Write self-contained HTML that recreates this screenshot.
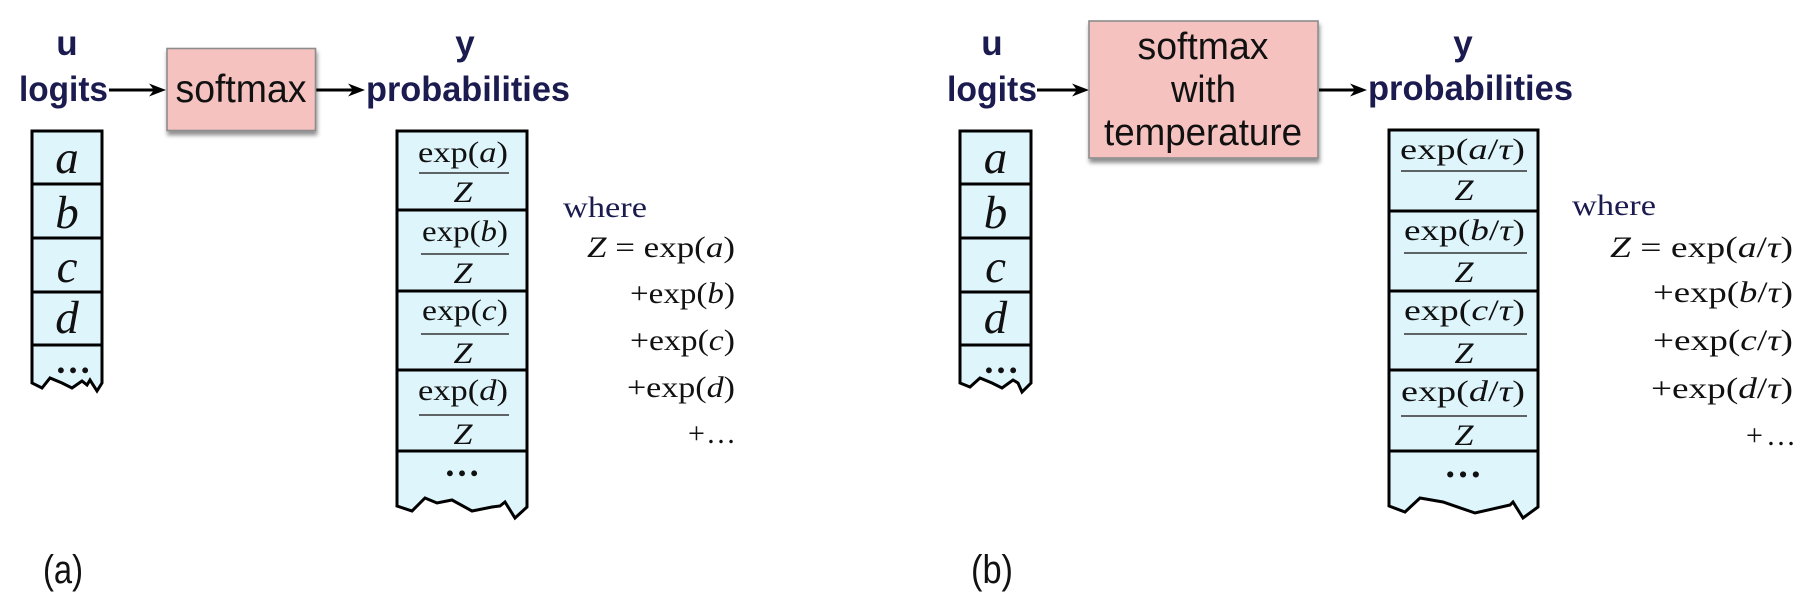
<!DOCTYPE html>
<html><head><meta charset="utf-8"><style>
html,body{margin:0;padding:0;background:#fff;}
svg{display:block;}
.lab{font-family:"Liberation Sans",Arial,sans-serif;font-weight:bold;fill:#1b1b4f;font-size:35px;}
.box{font-family:"Liberation Sans",Arial,sans-serif;fill:#111;}
.m{font-family:"Liberation Serif","Times New Roman",serif;fill:#111;font-size:30px;}
.i{font-style:italic;}
.cell{font-family:"Liberation Serif","Times New Roman",serif;font-style:italic;fill:#111;font-size:47px;}
.where{font-family:"Liberation Serif","Times New Roman",serif;fill:#1b1b4f;font-size:30px;}
.cap{font-family:"Liberation Sans",Arial,sans-serif;fill:#111;font-size:40px;}
</style></head><body>
<svg width="1814" height="616" viewBox="0 0 1814 616" xmlns="http://www.w3.org/2000/svg">
<defs>
<filter id="sh" x="-10%" y="-10%" width="130%" height="140%">
<feDropShadow dx="1" dy="4" stdDeviation="2" flood-color="#000" flood-opacity="0.45"/>
</filter>
</defs>

<!-- ================= PANEL A ================= -->
<text class="lab" x="67" y="55" text-anchor="middle">u</text>
<text class="lab" x="19" y="101" textLength="89" lengthAdjust="spacingAndGlyphs">logits</text>
<text class="lab" x="465" y="55" text-anchor="middle">y</text>
<text class="lab" x="366" y="101" textLength="204" lengthAdjust="spacingAndGlyphs">probabilities</text>

<line x1="109" y1="90" x2="160" y2="90" stroke="#000" stroke-width="3"/>
<path d="M166,90 L149,83.5 L154,90 L149,96.5 Z" fill="#000"/>
<line x1="316" y1="90" x2="358" y2="90" stroke="#000" stroke-width="3"/>
<path d="M365,90 L348,83.5 L353,90 L348,96.5 Z" fill="#000"/>

<rect x="167" y="48.5" width="148.5" height="82" fill="#f5c2c0" stroke="#8c8c8c" stroke-width="1.6" filter="url(#sh)"/>
<text class="box" x="241" y="102" font-size="39" text-anchor="middle" textLength="131" lengthAdjust="spacingAndGlyphs">softmax</text>

<path d="M32,131 L102,131 L102,383 L97,391 L90,380 L87,385 L82,381 L72,388 L62,383 L50,378 L42,388 L32,383 Z" fill="#def5fc" stroke="#000" stroke-width="3"/>
<g stroke="#000" stroke-width="3">
<line x1="32" y1="184" x2="102" y2="184"/>
<line x1="32" y1="238" x2="102" y2="238"/>
<line x1="32" y1="292" x2="102" y2="292"/>
<line x1="32" y1="345" x2="102" y2="345"/>
</g>
<text class="cell" x="67" y="173" text-anchor="middle">a</text>
<text class="cell" x="67" y="228" text-anchor="middle">b</text>
<text class="cell" x="67" y="282" text-anchor="middle">c</text>
<text class="cell" x="67" y="333" text-anchor="middle">d</text>
<text x="73" y="373" text-anchor="middle" font-family="Liberation Serif, serif" font-weight="bold" font-size="36" fill="#111">…</text>

<path d="M397,131 L527,131 L527,507 L515,518 L505,502 L500,506 L492,507 L472,511 L452,500 L437,503 L425,498 L412,511 L397,506 Z" fill="#def5fc" stroke="#000" stroke-width="3"/>
<g stroke="#000" stroke-width="3">
<line x1="397" y1="210" x2="527" y2="210"/>
<line x1="397" y1="291" x2="527" y2="291"/>
<line x1="397" y1="370" x2="527" y2="370"/>
<line x1="397" y1="451" x2="527" y2="451"/>
</g>
<g stroke="#333" stroke-width="1.6">
<line x1="419" y1="173" x2="509" y2="173"/>
<line x1="421" y1="254" x2="509" y2="254"/>
<line x1="421" y1="334" x2="509" y2="334"/>
<line x1="419" y1="415" x2="509" y2="415"/>
</g>
<text class="m" x="463" y="162" text-anchor="middle" textLength="90" lengthAdjust="spacingAndGlyphs">exp(<tspan class="i">a</tspan>)</text>
<text class="m i" x="463" y="202" text-anchor="middle" font-size="28" textLength="19" lengthAdjust="spacingAndGlyphs">Z</text>
<text class="m" x="465" y="241" text-anchor="middle" textLength="86" lengthAdjust="spacingAndGlyphs">exp(<tspan class="i">b</tspan>)</text>
<text class="m i" x="463" y="283" text-anchor="middle" font-size="28" textLength="19" lengthAdjust="spacingAndGlyphs">Z</text>
<text class="m" x="465" y="320" text-anchor="middle" textLength="86" lengthAdjust="spacingAndGlyphs">exp(<tspan class="i">c</tspan>)</text>
<text class="m i" x="463" y="363" text-anchor="middle" font-size="28" textLength="19" lengthAdjust="spacingAndGlyphs">Z</text>
<text class="m" x="463" y="400" text-anchor="middle" textLength="90" lengthAdjust="spacingAndGlyphs">exp(<tspan class="i">d</tspan>)</text>
<text class="m i" x="463" y="444" text-anchor="middle" font-size="28" textLength="19" lengthAdjust="spacingAndGlyphs">Z</text>
<text x="462" y="476" text-anchor="middle" font-family="Liberation Serif, serif" font-weight="bold" font-size="36" fill="#111">…</text>

<text class="where" x="563" y="217" textLength="84" lengthAdjust="spacingAndGlyphs">where</text>
<text class="m" x="735" y="257" text-anchor="end" textLength="148" lengthAdjust="spacingAndGlyphs"><tspan class="i">Z</tspan> = exp(<tspan class="i">a</tspan>)</text>
<text class="m" x="735" y="303" text-anchor="end" textLength="105" lengthAdjust="spacingAndGlyphs">+exp(<tspan class="i">b</tspan>)</text>
<text class="m" x="735" y="350" text-anchor="end" textLength="105" lengthAdjust="spacingAndGlyphs">+exp(<tspan class="i">c</tspan>)</text>
<text class="m" x="735" y="397" text-anchor="end" textLength="108" lengthAdjust="spacingAndGlyphs">+exp(<tspan class="i">d</tspan>)</text>
<text class="m" x="688" y="443" font-size="31">+</text>
<text class="m" x="706" y="443" font-size="23">…</text>

<text class="cap" x="43" y="583" textLength="40" lengthAdjust="spacingAndGlyphs">(a)</text>

<!-- ================= PANEL B ================= -->
<text class="lab" x="992" y="55" text-anchor="middle">u</text>
<text class="lab" x="947" y="101" textLength="90" lengthAdjust="spacingAndGlyphs">logits</text>
<text class="lab" x="1463" y="55" text-anchor="middle">y</text>
<text class="lab" x="1368" y="100" textLength="205" lengthAdjust="spacingAndGlyphs">probabilities</text>

<line x1="1037" y1="90" x2="1082" y2="90" stroke="#000" stroke-width="3"/>
<path d="M1089,90 L1072,83.5 L1077,90 L1072,96.5 Z" fill="#000"/>
<line x1="1319" y1="90" x2="1360" y2="90" stroke="#000" stroke-width="3"/>
<path d="M1367,90 L1350,83.5 L1355,90 L1350,96.5 Z" fill="#000"/>

<rect x="1089" y="21" width="229" height="137" fill="#f5c2c0" stroke="#8c8c8c" stroke-width="1.6" filter="url(#sh)"/>
<text class="box" x="1203" y="59" font-size="38" text-anchor="middle" textLength="131" lengthAdjust="spacingAndGlyphs">softmax</text>
<text class="box" x="1203.5" y="102" font-size="38" text-anchor="middle" textLength="65" lengthAdjust="spacingAndGlyphs">with</text>
<text class="box" x="1203" y="145" font-size="38" text-anchor="middle" textLength="198" lengthAdjust="spacingAndGlyphs">temperature</text>

<path d="M960,131 L1031,131 L1031,383 L1022,392 L1018,383 L1013,380 L1002,388 L992,383 L980,378 L970,387 L960,383 Z" fill="#def5fc" stroke="#000" stroke-width="3"/>
<g stroke="#000" stroke-width="3">
<line x1="960" y1="184" x2="1031" y2="184"/>
<line x1="960" y1="238" x2="1031" y2="238"/>
<line x1="960" y1="292" x2="1031" y2="292"/>
<line x1="960" y1="345" x2="1031" y2="345"/>
</g>
<text class="cell" x="995.5" y="173" text-anchor="middle">a</text>
<text class="cell" x="995.5" y="228" text-anchor="middle">b</text>
<text class="cell" x="995.5" y="282" text-anchor="middle">c</text>
<text class="cell" x="995.5" y="333" text-anchor="middle">d</text>
<text x="1001" y="373" text-anchor="middle" font-family="Liberation Serif, serif" font-weight="bold" font-size="36" fill="#111">…</text>

<path d="M1389,130 L1538,130 L1538,507 L1523,518 L1513,502 L1510,505 L1475,513 L1443,502 L1420,498 L1405,512 L1389,506 Z" fill="#def5fc" stroke="#000" stroke-width="3"/>
<g stroke="#000" stroke-width="3">
<line x1="1389" y1="211" x2="1538" y2="211"/>
<line x1="1389" y1="291" x2="1538" y2="291"/>
<line x1="1389" y1="370" x2="1538" y2="370"/>
<line x1="1389" y1="451" x2="1538" y2="451"/>
</g>
<g stroke="#333" stroke-width="1.6">
<line x1="1401" y1="171" x2="1527" y2="171"/>
<line x1="1404" y1="253" x2="1527" y2="253"/>
<line x1="1404" y1="334" x2="1527" y2="334"/>
<line x1="1401" y1="416" x2="1527" y2="416"/>
</g>
<text class="m" x="1462.5" y="159" text-anchor="middle" textLength="125" lengthAdjust="spacingAndGlyphs">exp(<tspan class="i">a</tspan>/<tspan class="i">τ</tspan>)</text>
<text class="m i" x="1464" y="200" text-anchor="middle" font-size="28" textLength="19" lengthAdjust="spacingAndGlyphs">Z</text>
<text class="m" x="1464.5" y="240" text-anchor="middle" textLength="121" lengthAdjust="spacingAndGlyphs">exp(<tspan class="i">b</tspan>/<tspan class="i">τ</tspan>)</text>
<text class="m i" x="1464" y="282" text-anchor="middle" font-size="28" textLength="19" lengthAdjust="spacingAndGlyphs">Z</text>
<text class="m" x="1464.5" y="320" text-anchor="middle" textLength="121" lengthAdjust="spacingAndGlyphs">exp(<tspan class="i">c</tspan>/<tspan class="i">τ</tspan>)</text>
<text class="m i" x="1464" y="363" text-anchor="middle" font-size="28" textLength="19" lengthAdjust="spacingAndGlyphs">Z</text>
<text class="m" x="1463" y="401" text-anchor="middle" textLength="124" lengthAdjust="spacingAndGlyphs">exp(<tspan class="i">d</tspan>/<tspan class="i">τ</tspan>)</text>
<text class="m i" x="1464" y="445" text-anchor="middle" font-size="28" textLength="19" lengthAdjust="spacingAndGlyphs">Z</text>
<text x="1463" y="477" text-anchor="middle" font-family="Liberation Serif, serif" font-weight="bold" font-size="38" fill="#111">…</text>

<text class="where" x="1572" y="215" textLength="84" lengthAdjust="spacingAndGlyphs">where</text>
<text class="m" x="1793" y="257" text-anchor="end" textLength="183" lengthAdjust="spacingAndGlyphs"><tspan class="i">Z</tspan> = exp(<tspan class="i">a</tspan>/<tspan class="i">τ</tspan>)</text>
<text class="m" x="1793" y="302" text-anchor="end" textLength="140" lengthAdjust="spacingAndGlyphs">+exp(<tspan class="i">b</tspan>/<tspan class="i">τ</tspan>)</text>
<text class="m" x="1793" y="350" text-anchor="end" textLength="140" lengthAdjust="spacingAndGlyphs">+exp(<tspan class="i">c</tspan>/<tspan class="i">τ</tspan>)</text>
<text class="m" x="1793" y="398" text-anchor="end" textLength="142" lengthAdjust="spacingAndGlyphs">+exp(<tspan class="i">d</tspan>/<tspan class="i">τ</tspan>)</text>
<text class="m" x="1746" y="445" font-size="31">+</text>
<text class="m" x="1766" y="445" font-size="27">…</text>

<text class="cap" x="971" y="583" textLength="42" lengthAdjust="spacingAndGlyphs">(b)</text>
</svg>
</body></html>
